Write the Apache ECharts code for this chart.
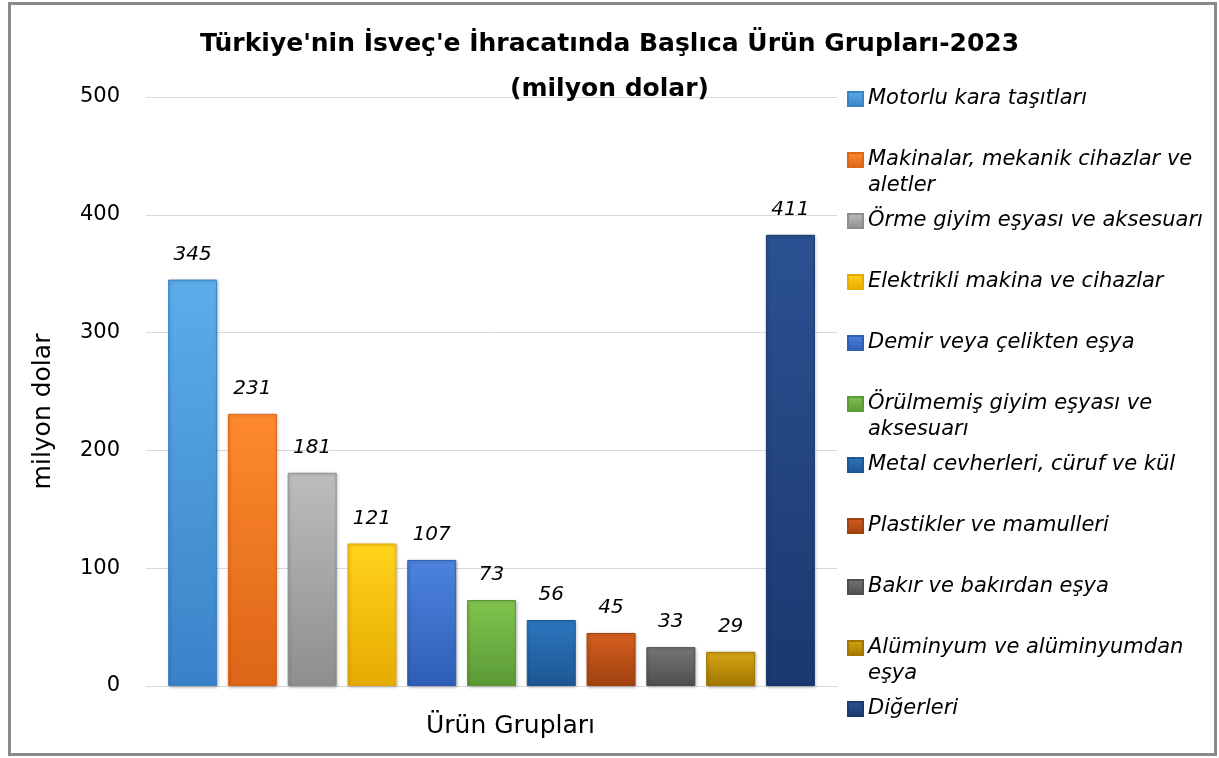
<!DOCTYPE html>
<html>
<head>
<meta charset="utf-8">
<script src="https://cdn.jsdelivr.net/npm/echarts@6/dist/echarts.min.js"></script>
<style>
html,body{margin:0;padding:0;background:#fff;}
#chart{width:1219px;height:758px;}
</style>
</head>
<body>
<div id="chart"></div>
<script>
// Data
const categories = ['Ürün Grupları'];
const seriesNames = [
  'Motorlu kara taşıtları',
  'Makinalar, mekanik cihazlar ve aletler',
  'Örme giyim eşyası ve aksesuarı',
  'Elektrikli makina ve cihazlar',
  'Demir veya çelikten eşya',
  'Örülmemiş giyim eşyası ve aksesuarı',
  'Metal cevherleri, cüruf ve kül',
  'Plastikler ve mamulleri',
  'Bakır ve bakırdan eşya',
  'Alüminyum ve alüminyumdan eşya',
  'Diğerleri'
];
// bar heights as drawn
const barValues = [345, 231, 181, 121, 107, 73, 56, 45, 33, 29, 383];
// data labels as printed
const barLabels = ['345', '231', '181', '121', '107', '73', '56', '45', '33', '29', '411'];
const yTicks = [0, 100, 200, 300, 400, 500];

// legend text wrapping as in the reference
const legendLines = {
  'Motorlu kara taşıtları': ['Motorlu kara taşıtları', ' '],
  'Makinalar, mekanik cihazlar ve aletler': ['Makinalar, mekanik cihazlar ve', 'aletler'],
  'Örme giyim eşyası ve aksesuarı': ['Örme giyim eşyası ve aksesuarı', ' '],
  'Elektrikli makina ve cihazlar': ['Elektrikli makina ve cihazlar', ' '],
  'Demir veya çelikten eşya': ['Demir veya çelikten eşya', ' '],
  'Örülmemiş giyim eşyası ve aksesuarı': ['Örülmemiş giyim eşyası ve', 'aksesuarı'],
  'Metal cevherleri, cüruf ve kül': ['Metal cevherleri, cüruf ve kül', ' '],
  'Plastikler ve mamulleri': ['Plastikler ve mamulleri', ' '],
  'Bakır ve bakırdan eşya': ['Bakır ve bakırdan eşya', ' '],
  'Alüminyum ve alüminyumdan eşya': ['Alüminyum ve alüminyumdan', 'eşya'],
  'Diğerleri': ['Diğerleri', ' ']
};

// Styles
const colorPairs = [
  ['#5cade9', '#3a82c8'],
  ['#ff8a2c', '#dd6518'],
  ['#bdbdbd', '#8e8e8e'],
  ['#ffd31c', '#e6ab00'],
  ['#4d83de', '#2e5eb6'],
  ['#80c44e', '#5b9a36'],
  ['#2c76bf', '#1c5792'],
  ['#d65e1f', '#a0420f'],
  ['#767676', '#4e4e4e'],
  ['#d6a512', '#a17700'],
  ['#2b5192', '#1b386f']
];
const FONT = '"DejaVu Sans", "Noto Sans", sans-serif';

function grad(c) {
  return new echarts.graphic.LinearGradient(0, 0, 0, 1, [
    {offset: 0, color: c[0]},
    {offset: 1, color: c[1]}
  ]);
}

const series = seriesNames.map((name, i) => ({
  name: name,
  type: 'bar',
  data: [barValues[i]],
  barWidth: 49,
  barGap: '22%',
  itemStyle: {
    color: grad(colorPairs[i]),
    borderColor: colorPairs[i][1],
    borderWidth: 1,
    shadowColor: 'rgba(0,0,0,0.25)',
    shadowBlur: 3,
    shadowOffsetX: 1,
    shadowOffsetY: 1
  },
  label: {
    show: true,
    position: 'top',
    distance: 15,
    formatter: () => barLabels[i],
    fontFamily: FONT,
    fontStyle: 'italic',
    fontSize: 20,
    color: '#000'
  }
}));

const chart = echarts.init(document.getElementById('chart'), null, {renderer: 'canvas'});
chart.setOption({
  animation: false,
  backgroundColor: '#fff',
  color: colorPairs.map(c => c[1]),
  title: {
    text: "Türkiye'nin İsveç'e İhracatında Başlıca Ürün Grupları-2023\n(milyon dolar)",
    left: 'center',
    top: 17,
    textStyle: {
      fontFamily: FONT,
      fontWeight: 'bold',
      fontSize: 25,
      lineHeight: 45,
      color: '#000'
    }
  },
  legend: {
    orient: 'vertical',
    left: 842,
    top: 55,
    itemWidth: 15,
    itemHeight: 14,
    itemGap: -17,
    icon: 'rect',
    data: seriesNames,
    formatter: name => ' \n' + legendLines[name].join('\n'),
    textStyle: {
      fontFamily: FONT,
      fontStyle: 'italic',
      fontSize: 21,
      lineHeight: 26,
      color: '#000'
    }
  },
  grid: {left: 146, right: 382, top: 97, bottom: 72},
  xAxis: {
    type: 'category',
    data: categories,
    name: 'Ürün Grupları',
    nameLocation: 'middle',
    nameGap: 28,
    nameTextStyle: {fontFamily: FONT, fontSize: 25, color: '#000', padding: [0, 0, 0, 38]},
    axisLabel: {show: false},
    axisTick: {show: false},
    axisLine: {lineStyle: {color: '#d9d9d9', width: 1}}
  },
  yAxis: {
    type: 'value',
    min: yTicks[0],
    max: yTicks[yTicks.length - 1],
    interval: yTicks[1] - yTicks[0],
    name: 'milyon dolar',
    nameLocation: 'middle',
    nameGap: 90,
    nameTextStyle: {fontFamily: FONT, fontSize: 25, color: '#000', padding: [0, 40, 0, 0]},
    axisLabel: {
      margin: 26,
      fontFamily: FONT,
      fontSize: 21,
      color: '#000'
    },
    axisLine: {show: false},
    axisTick: {show: false},
    splitLine: {lineStyle: {color: '#d9d9d9', width: 1}}
  },
  graphic: [{
    type: 'rect',
    silent: true,
    shape: {x: 9.5, y: 3.5, width: 1206, height: 751},
    style: {fill: 'none', stroke: '#8a8a8a', lineWidth: 3}
  }],
  series: series
});
</script>
</body>
</html>
